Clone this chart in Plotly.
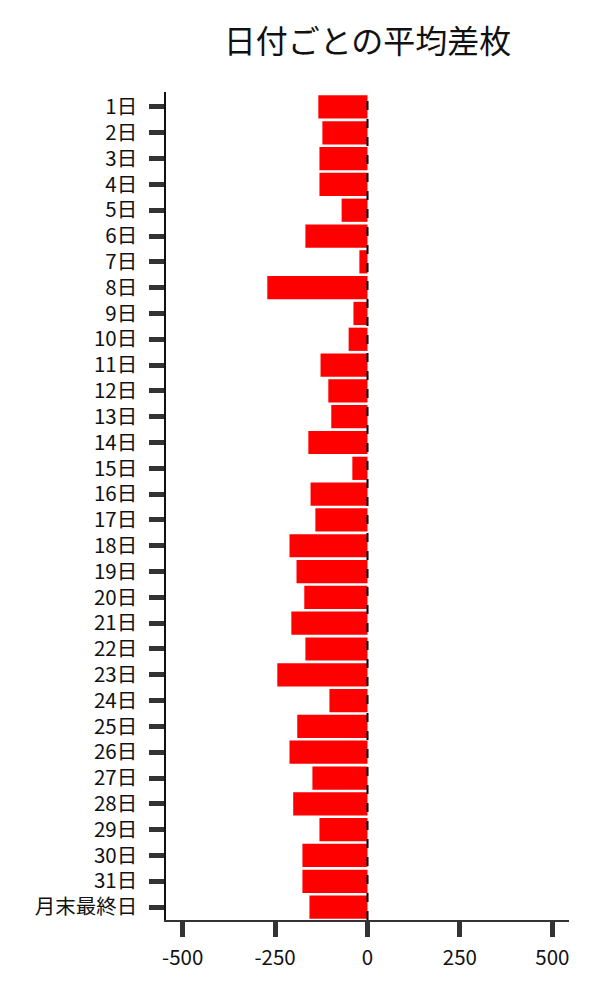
import plotly.graph_objects as go

days = [f"{i}日" for i in range(1, 32)] + ["月末最終日"]
avg_diff = [-133, -122, -130, -130, -70, -168, -22, -271, -38, -51,
            -127, -106, -98, -160, -41, -154, -141, -211, -192, -171,
            -206, -168, -244, -103, -190, -211, -149, -201, -130, -176,
            -176, -157]
x_ticks = [-500, -250, 0, 250, 500]

fig = go.Figure(go.Bar(
    x=avg_diff, y=days, orientation="h",
    marker=dict(color="#ff0000", line=dict(width=0)),
))

fig.update_layout(
    width=600, height=1000,
    paper_bgcolor="white", plot_bgcolor="white",
    font=dict(family="Noto Sans CJK JP", size=20.5, color="#111"),
    title=dict(text="日付ごとの平均差枚", x=0.5, xref="paper",
               y=0.966, yanchor="middle",
               font=dict(size=32, color="#111")),
    margin=dict(l=158, r=39, t=84, b=88),
    bargap=0.1,
    showlegend=False,
)
fig.update_xaxes(
    range=[-545, 545], tickvals=x_ticks, ticktext=[str(v) for v in x_ticks],
    showgrid=False, zeroline=False,
    showline=True, linecolor="#333", linewidth=1.5,
    ticks="outside", ticklen=15, tickwidth=5, tickcolor="#333",
    ticklabelstandoff=4,
)
fig.update_yaxes(
    range=[len(days) - 0.5, -0.58], showgrid=False, zeroline=False,
    showline=True, linecolor="#111", linewidth=1.5,
    ticks="outside", ticklen=15, tickwidth=5, tickcolor="#333",
    ticklabelstandoff=8,
)
fig.add_shape(type="line", xref="x", yref="paper", x0=0, x1=0, y0=0, y1=1,
              line=dict(color="black", width=2, dash="dash"), layer="above")

fig.write_html("out.html")
